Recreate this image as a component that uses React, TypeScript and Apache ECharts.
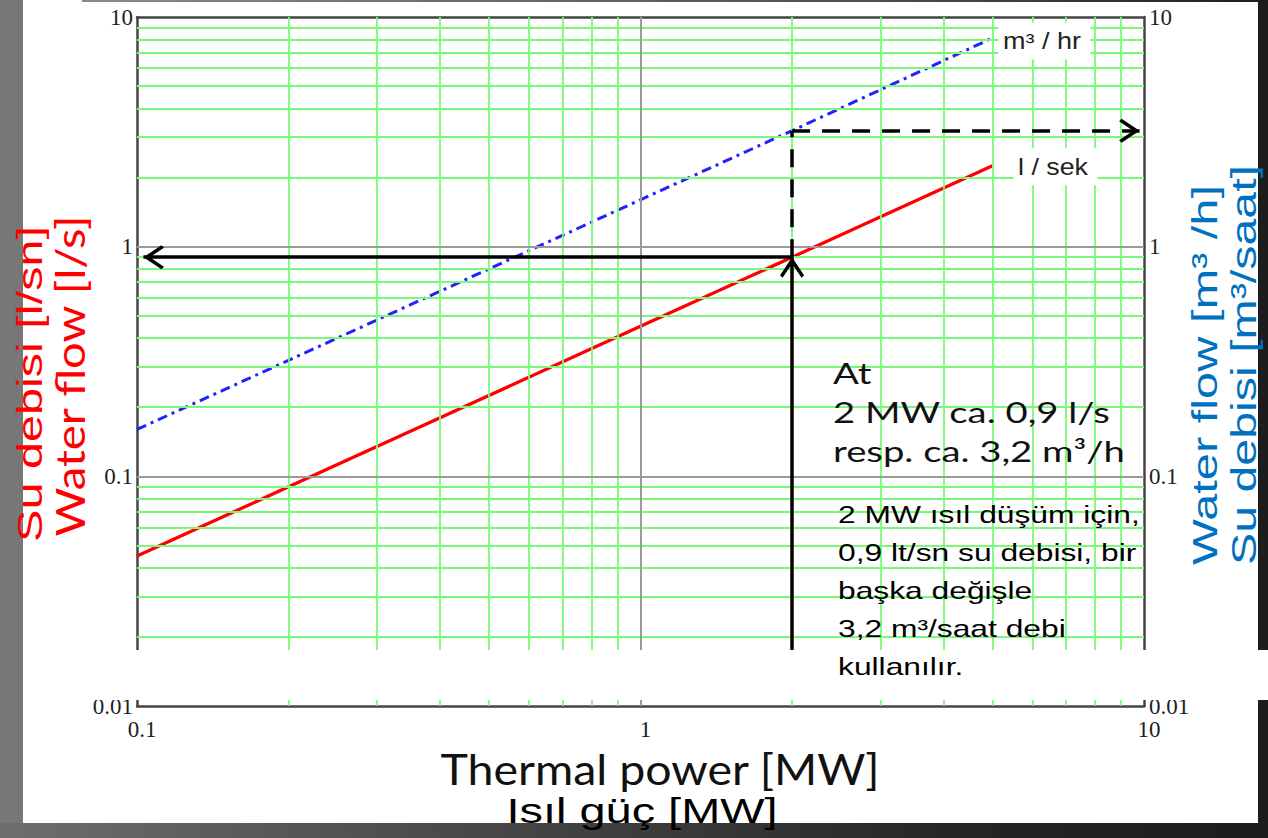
import React, { useEffect, useRef } from "react";
import * as echarts from "echarts";

// Log axis ranges
const powerRange = [0.1, 10];
const flowRange = [0.01, 10];

// Thermal power [MW] and the matching water flows
const powerMW = [0.1, 0.2, 0.5, 1, 2, 5];
const flowLitrePerSec = [0.045, 0.09, 0.225, 0.45, 0.9, 2.25];
const flowCubicPerHour = [0.16, 0.32, 0.8, 1.6, 3.2, 8.1];

// Worked example: 2 MW -> 0.9 l/s -> 3.2 m³/h
const examplePower = 2;
const exampleLs = 0.9;
const exampleM3h = 3.2;
const arrowLeftEnd = 0.103;
const arrowRightEnd = 9.8;
const arrowBottom = 0.0175;

// Grid lines
const minorPowerLines = [0.2, 0.3, 0.4, 0.5, 0.6, 0.7, 0.8, 0.9, 2, 3, 4, 5, 6, 7, 8, 9];
const majorPowerLines = [1];
const minorFlowLines = [
  0.02, 0.03, 0.04, 0.05, 0.06, 0.07, 0.08, 0.09,
  0.2, 0.3, 0.4, 0.5, 0.6, 0.7, 0.8, 0.9,
  2, 3, 4, 5, 6, 7, 8, 9,
];
const majorFlowLines = [0.1, 1];

const seriesNames = ["l / sek", "m³ / hr"];
const noteLines = ["At", "2 MW ca. 0,9 l/s", "resp. ca. 3,2 m³/h"];
const turkishLines = [
  "2 MW ısıl düşüm için,",
  "0,9 lt/sn su debisi, bir",
  "başka değişle",
  "3,2 m³/saat debi",
  "kullanılır.",
];

const SANS = "'Liberation Sans', Arial, sans-serif";
const HUMAN = "Lato, 'Noto Sans', sans-serif";
const SERIF = "'Liberation Serif', 'Times New Roman', serif";
const GREEN = "#78fa78";
const GRAY = "#9a9a9a";
const AXIS = "#454545";
const RED = "#ff0000";
const BLUE = "#2222ff";
const TITLE_BLUE = "#0070c0";

// Open chevron pointing up; the tiny second sub-path centres the tip on the line end.
const CHEVRON =
  "path://M12,0 L24,18 L21.5,20.5 L12,6.5 L2.5,20.5 L0,18 Z M12,-20.5 L12.01,-20.5 Z";

const measureCanvas = typeof document !== "undefined" ? document.createElement("canvas") : null;
function textWidth(text: string, size: number, family: string) {
  const ctx = measureCanvas!.getContext("2d")!;
  ctx.font = `${size}px ${family}`;
  return ctx.measureText(text).width || 1;
}

function fmt(v: number) {
  return String(Number(v.toPrecision(6)));
}

function gridLineSeries(xs: number[], ys: number[], color: string, width: number) {
  return {
    type: "line",
    data: [[powerRange[0], flowRange[0]]],
    showSymbol: false,
    symbol: "none",
    lineStyle: { opacity: 0 },
    silent: true,
    z: 1,
    markLine: {
      silent: true,
      animation: false,
      symbol: ["none", "none"],
      label: { show: false },
      emphasis: { disabled: true },
      lineStyle: { color, width, type: "solid" },
      data: [...xs.map((v) => ({ xAxis: v })), ...ys.map((v) => ({ yAxis: v }))],
    },
  };
}

function arrowSeries(from: number[], to: number[], dashed: boolean, head: boolean) {
  return {
    type: "line",
    data: [from],
    showSymbol: false,
    symbol: "none",
    lineStyle: { opacity: 0 },
    silent: true,
    z: 6,
    markLine: {
      silent: true,
      animation: false,
      symbol: ["none", head ? CHEVRON : "none"],
      symbolSize: [24, 41],
      label: { show: false },
      emphasis: { disabled: true },
      lineStyle: { color: "#000", width: 3.5, type: dashed ? [18, 12] : "solid", opacity: 1 },
      data: [[{ coord: from }, { coord: to }]],
    },
  };
}

function logAxis(range: number[], extra: any) {
  return {
    type: "log",
    logBase: 10,
    min: range[0],
    max: range[1],
    axisLine: { show: true, lineStyle: { color: AXIS, width: 2.5 } },
    axisTick: { show: false },
    splitLine: { show: false },
    minorSplitLine: { show: false },
    ...extra,
  };
}

function textEl(
  text: string,
  x: number,
  y: number,
  size: number,
  family: string,
  fill: string,
  scaleX: number,
  align: string,
  rotation = 0,
  extra: any = {}
) {
  return {
    type: "text",
    z: 100,
    silent: true,
    x,
    y,
    rotation,
    scaleX,
    style: {
      text,
      fontSize: size,
      fontFamily: family,
      fill,
      align,
      verticalAlign: "middle",
      ...extra,
    },
  };
}

export default function App() {
  const ref = useRef<HTMLDivElement>(null);

  useEffect(() => {
    document.body.style.margin = "0";
    document.body.style.overflow = "hidden";
    const chart = echarts.init(ref.current!, null, { renderer: "svg" });

    const labelStyle = {
      fontFamily: SERIF,
      fontSize: 23,
      color: "#1e1e1e",
      formatter: (v: number) => fmt(v),
      showMinLabel: true,
      showMaxLabel: true,
    };

    chart.setOption({
      animation: false,
      backgroundColor: "transparent",
      grid: { left: 137, top: 17, width: 1007, height: 689 },
      xAxis: [
        logAxis(powerRange, {
          position: "bottom",
          axisLabel: { ...labelStyle, margin: 12, padding: [0, 0, 0, 10] },
        }),
        logAxis(powerRange, { position: "top", axisLabel: { show: false } }),
      ],
      yAxis: [
        logAxis(flowRange, {
          position: "left",
          axisLabel: { ...labelStyle, margin: 4, padding: [12, 0, 0, 0] },
        }),
        logAxis(flowRange, {
          position: "right",
          axisLabel: { ...labelStyle, margin: 5, padding: [10, 0, 0, 0] },
        }),
      ],
      series: [
        gridLineSeries(minorPowerLines, minorFlowLines, GREEN, 1.8),
        gridLineSeries(majorPowerLines, majorFlowLines, GRAY, 2),
        {
          name: seriesNames[0],
          type: "line",
          data: powerMW.map((p, i) => [p, flowLitrePerSec[i]]),
          showSymbol: false,
          symbol: "none",
          silent: true,
          z: 4,
          lineStyle: { color: RED, width: 3.3 },
        },
        {
          name: seriesNames[1],
          type: "line",
          data: powerMW.map((p, i) => [p, flowCubicPerHour[i]]),
          showSymbol: false,
          symbol: "none",
          silent: true,
          z: 4,
          lineStyle: { color: BLUE, width: 3, type: [10, 5, 3, 5] },
        },
        arrowSeries([examplePower, arrowBottom], [examplePower, exampleLs], false, true),
        arrowSeries([examplePower, exampleLs], [arrowLeftEnd, exampleLs], false, true),
        arrowSeries([examplePower, exampleLs], [examplePower, exampleM3h], true, false),
        arrowSeries([examplePower, exampleM3h], [arrowRightEnd, exampleM3h], true, true),
      ],
    });

    const last = powerMW.length - 1;
    const toPx = (pt: number[]) =>
      chart.convertToPixel({ xAxisIndex: 0, yAxisIndex: 0 }, pt) as number[];
    const redEnd = toPx([powerMW[last], flowLitrePerSec[last]]);
    const blueEnd = toPx([powerMW[last], flowCubicPerHour[last]]);

    const graphics: any[] = [];

    // white band across the lower part of the plot
    graphics.push({
      type: "rect",
      z: 90,
      silent: true,
      shape: { x: 23, y: 650, width: 1245, height: 50 },
      style: { fill: "#ffffff" },
    });

    // curve labels
    const lblBg = { backgroundColor: "#ffffff", padding: [7, 8, 7, 4] };
    graphics.push(
      textEl(seriesNames[1], blueEnd[0] + 6, blueEnd[1] + 3, 23, SANS, "#222",
        78 / textWidth(seriesNames[1], 23, SANS), "left", 0, lblBg)
    );
    graphics.push(
      textEl(seriesNames[0], redEnd[0] + 21, redEnd[1] + 1, 23, SANS, "#222",
        70 / textWidth(seriesNames[0], 23, SANS), "left", 0, lblBg)
    );

    // example note
    const noteScale = 292 / textWidth(noteLines[2], 29, HUMAN);
    noteLines.forEach((t, i) => {
      graphics.push(textEl(t, 833, 373 + i * 39, 29, HUMAN, "#111", noteScale, "left"));
    });

    // Turkish note
    const trScale = 302 / textWidth(turkishLines[0], 24, SANS);
    turkishLines.forEach((t, i) => {
      graphics.push(textEl(t, 838, 515 + i * 38, 24, SANS, "#000", trScale, "left"));
    });

    // x axis titles
    const xt1 = "Thermal power [MW]";
    const xt2 = "Isıl güç [MW]";
    graphics.push(textEl(xt1, 660, 768, 42, HUMAN, "#111", 440 / textWidth(xt1, 42, HUMAN), "center"));
    graphics.push(textEl(xt2, 642, 811, 35, SANS, "#000", 271 / textWidth(xt2, 35, SANS), "center"));

    // left axis titles
    const yl1 = "Su debisi [l/sn]";
    const yl2 = "Water flow [l/s]";
    graphics.push(textEl(yl1, 30, 384, 35, SANS, RED, 316 / textWidth(yl1, 35, SANS), "center", Math.PI / 2));
    graphics.push(textEl(yl2, 69, 376, 40, HUMAN, RED, 323 / textWidth(yl2, 40, HUMAN), "center", Math.PI / 2));

    // right axis titles
    const yr1 = "Water flow [m³ /h]";
    const yr2 = "Su debisi [m³/saat]";
    graphics.push(textEl(yr1, 1204, 375, 36, SANS, TITLE_BLUE, 380 / textWidth(yr1, 36, SANS), "center", Math.PI / 2));
    graphics.push(textEl(yr2, 1243, 365, 36, SANS, TITLE_BLUE, 400 / textWidth(yr2, 36, SANS), "center", Math.PI / 2));

    chart.setOption({ graphic: graphics });

    return () => chart.dispose();
  }, []);

  return (
    <div style={{ position: "relative", width: 1268, height: 838, overflow: "hidden", background: "#ffffff" }}>
      <div style={{ position: "absolute", left: 82, top: 0, width: 1186, height: 2, background: "linear-gradient(90deg, #8a8a8a, #4a4a4a 70%, #1e1e1e)" }} />
      <div style={{ position: "absolute", left: 0, top: 0, width: 23, height: 838, background: "#777777" }} />
      <div style={{ position: "absolute", left: 1258, top: 0, width: 10, height: 838, background: "#1d1d1d" }} />
      <div style={{ position: "absolute", left: 0, top: 823, width: 1268, height: 15, background: "linear-gradient(90deg, #6e6e6e, #4a4a4a 35%, #262626 75%, #1c1c1c)" }} />
      <div ref={ref} style={{ position: "absolute", left: 0, top: 0, width: 1268, height: 838 }} />
    </div>
  );
}
